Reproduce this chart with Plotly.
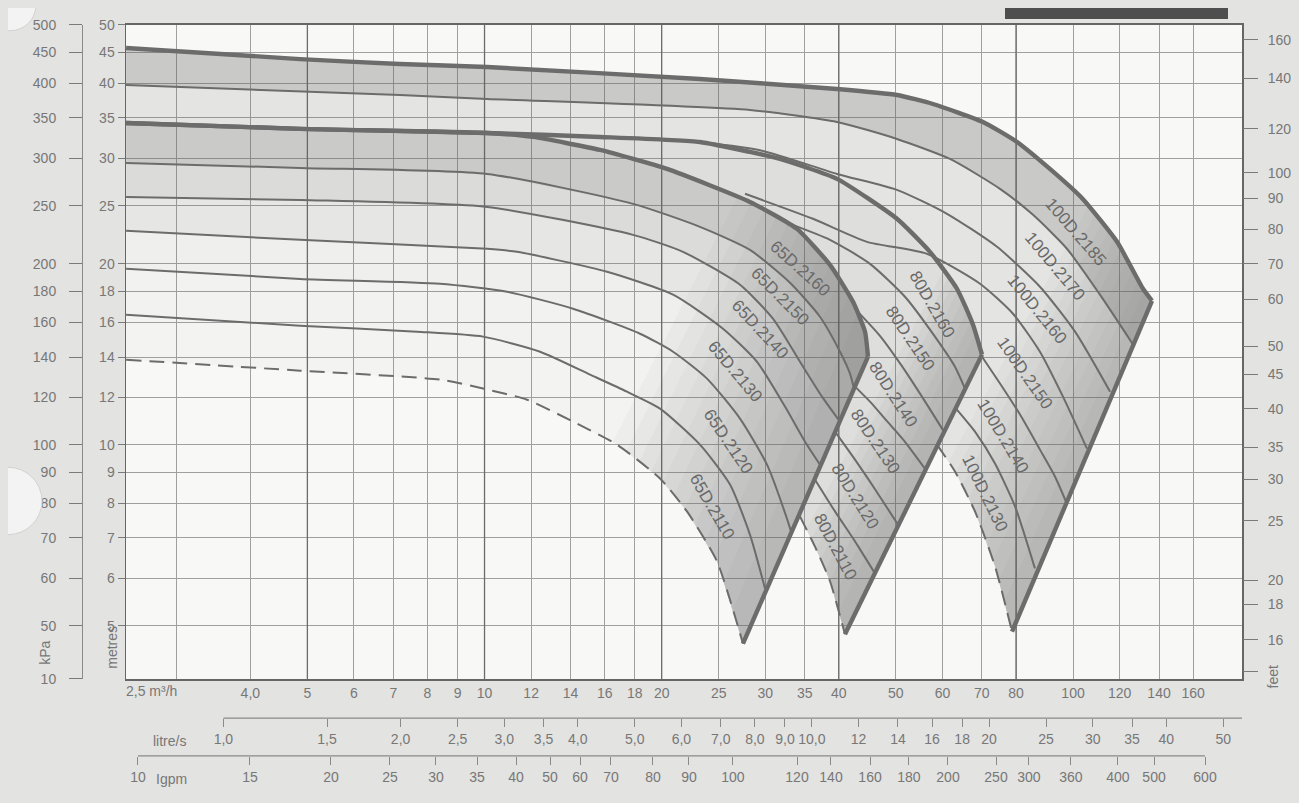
import numpy as np
import plotly.graph_objects as go

# ---------------- curve data (flow m3/h, head m) ----------------
Q_100D_2185 = [2.46, 4.86, 7.18, 10.10, 23.23, 39.71, 50.21, 57.81, 70.31, 80.32, 91.36, 103.9, 118.8, 131.5, 136.2]
H_100D_2185 = [45.75, 43.85, 43.02, 42.53, 40.62, 39.10, 38.21, 36.92, 34.46, 31.92, 28.79, 25.66, 21.77, 18.19, 17.37]
Q_100D_2170 = [2.46, 7.18, 10.10, 28.25, 39.71, 50.21, 61.79, 75.15, 85.51, 97.65, 111.1, 126.5]
H_100D_2170 = [39.70, 38.21, 37.64, 36.08, 34.46, 32.29, 29.91, 26.67, 24.14, 21.20, 17.78, 14.68]
Q_100D_2160 = [2.46, 4.86, 10.10, 15.71, 23.23, 29.73, 39.71, 50.21, 61.07, 74.27, 87.86, 100.8, 115.6]
H_100D_2160 = [34.33, 33.56, 33.04, 32.54, 31.92, 30.84, 28.24, 26.57, 24.24, 21.36, 18.33, 15.43, 12.26]
Q_100D_2150 = [27.71, 36.15, 44.66, 56.47, 69.49, 79.07, 87.86, 96.14, 105.6]
H_100D_2150 = [26.17, 23.78, 21.77, 20.79, 18.54, 16.53, 14.29, 12.03, 9.86]
Q_100D_2140 = [70.04, 75.15, 81.27, 87.86, 93.17, 97.28]
H_100D_2140 = [14.02, 12.65, 11.23, 9.82, 8.86, 8.05]
Q_100D_2130 = [63.26, 68.14, 73.69, 79.70, 86.15]
H_100D_2130 = [11.49, 10.52, 9.31, 7.90, 6.23]
Q_100D_MIN = [58.72, 63.01, 68.14, 73.69, 78.77]
H_100D_MIN = [10.01, 9.03, 7.75, 6.28, 4.89]

Q_80D_2160 = [2.46, 4.86, 10.10, 15.71, 23.23, 28.25, 31.77, 39.71, 50.21, 57.13, 63.50, 67.61, 70.04]
H_80D_2160 = [34.33, 33.56, 33.04, 32.54, 31.92, 30.72, 29.91, 27.71, 23.78, 20.95, 18.19, 15.85, 14.13]
Q_80D_2150 = [33.04, 38.64, 45.19, 51.81, 58.26, 63.01, 65.52]
H_80D_2150 = [23.32, 21.94, 20.01, 17.64, 15.14, 13.49, 12.41]
Q_80D_2140 = [43.11, 46.98, 51.00, 55.37, 60.35]
H_80D_2140 = [16.65, 15.19, 13.60, 12.03, 10.52]
Q_80D_2130 = [42.61, 45.19, 47.72, 51.81, 56.03]
H_80D_2130 = [12.50, 11.80, 11.10, 10.12, 9.13]
Q_80D_2120 = [39.40, 42.61, 46.26, 50.41]
H_80D_2120 = [10.52, 9.45, 8.39, 7.37]
Q_80D_2110 = [36.44, 39.40, 42.61, 46.08]
H_80D_2110 = [8.75, 7.75, 6.91, 6.11]
Q_80D_MIN = [34.36, 36.44, 38.64, 40.97]
H_80D_MIN = [7.60, 6.77, 5.93, 4.84]

Q_65D_2160 = [2.46, 4.86, 10.10, 12.09, 15.71, 20.42, 28.25, 33.96, 38.64, 42.28, 44.31, 44.83]
H_65D_2160 = [34.33, 33.56, 33.04, 32.54, 30.96, 28.79, 25.37, 22.88, 19.93, 17.30, 15.43, 14.02]
Q_65D_2150 = [2.46, 4.86, 10.10, 17.88, 23.23, 28.25, 33.04, 37.15, 40.18, 41.78, 42.44]
H_65D_2150 = [29.46, 28.90, 28.24, 25.18, 23.06, 21.11, 18.61, 16.34, 14.29, 13.14, 12.41]
Q_65D_2140 = [2.46, 4.86, 10.10, 17.88, 21.74, 27.17, 30.91, 34.36, 37.45, 40.18]
H_65D_2140 = [25.86, 25.56, 24.89, 22.36, 20.95, 18.47, 16.22, 13.75, 12.03, 10.93]
Q_65D_2130 = [2.46, 4.86, 10.10, 11.36, 16.15, 20.91, 25.42, 29.04, 32.40, 35.04, 37.15]
H_65D_2130 = [22.71, 21.94, 21.20, 20.95, 19.41, 17.78, 15.61, 13.75, 11.58, 10.12, 9.27]
Q_65D_2120 = [2.46, 4.86, 8.40, 10.92, 14.14, 18.37, 20.91, 23.88, 27.17, 30.20, 32.65, 33.30]
H_65D_2120 = [19.63, 18.89, 18.54, 17.98, 16.85, 15.31, 14.29, 12.89, 11.06, 9.27, 7.54, 7.09]
Q_65D_2110 = [2.46, 4.86, 7.68, 9.94, 12.43, 15.11, 17.46, 19.87, 23.23, 26.13, 28.25, 29.96]
H_65D_2110 = [16.46, 15.79, 15.43, 15.14, 14.29, 13.09, 12.26, 11.49, 10.01, 8.59, 7.09, 5.77]
Q_65D_MIN = [2.46, 4.86, 8.40, 9.94, 11.81, 14.14, 16.79, 19.87, 22.08, 24.83, 27.49]
H_65D_MIN = [13.86, 13.29, 12.84, 12.41, 11.89, 10.93, 10.01, 8.79, 7.75, 6.40, 4.67]

# curve labels
LABEL_TEXT = ["65D.2160", "65D.2150", "65D.2140", "65D.2130", "65D.2120", "65D.2110",
              "80D.2160", "80D.2150", "80D.2140", "80D.2130", "80D.2120", "80D.2110",
              "100D.2185", "100D.2170", "100D.2160", "100D.2150", "100D.2140", "100D.2130"]
LABEL_Q = [34.36, 31.77, 29.38, 26.65, 25.93, 24.35,
           57.58, 52.84, 49.43, 46.08, 42.61, 39.40,
           100.8, 93.17, 86.83, 82.85, 76.03, 70.86]
LABEL_H = [19.63, 17.64, 15.55, 13.24, 10.12, 7.90,
           17.11, 15.02, 12.12, 10.12, 8.20, 6.77,
           22.62, 19.79, 16.78, 13.14, 10.32, 8.30]
LABEL_ANGLE = [42, 45, 47, 50, 56, 60,
               60, 56, 57, 56, 58, 62,
               49, 50, 51, 55, 59, 64]

# axis scales
M3H_TICKS = [3, 4, 5, 6, 7, 8, 9, 10, 12, 14, 16, 18, 20, 25, 30, 35, 40, 50, 60, 70, 80, 100, 120, 140, 160]
M3H_TEXT = ["", "4,0", "5", "6", "7", "8", "9", "10", "12", "14", "16", "18", "20", "25", "30", "35",
            "40", "50", "60", "70", "80", "100", "120", "140", "160"]
MAJOR_GRID_Q = [5, 10, 20, 40, 80]
M_TICKS = [50, 45, 40, 35, 30, 25, 20, 18, 16, 14, 12, 10, 9, 8, 7, 6, 5]
KPA_TICKS = [500, 450, 400, 350, 300, 250, 200, 180, 160, 140, 120, 100, 90, 80, 70, 60, 50]
FT_TEXT = ["160", "140", "120", "100", "90", "80", "70", "60", "50", "45", "40", "35", "30", "25",
           "20", "18", "16", ""]
# where each printed feet tick sits on the metre scale
FT_AT_M = [47.23, 40.72, 33.55, 28.38, 25.71, 22.86, 20.01, 17.45, 14.60, 13.12, 11.49, 9.904,
           8.770, 7.476, 5.953, 5.433, 4.739, 4.196]
LS_TICKS = [1.0, 1.5, 2.0, 2.5, 3.0, 3.5, 4.0, 5.0, 6.0, 7.0, 8.0, 9.0, 10.0, 12, 14, 16, 18, 20, 25, 30, 35, 40, 50]
LS_TEXT = ["1,0", "1,5", "2,0", "2,5", "3,0", "3,5", "4,0", "5,0", "6,0", "7,0", "8,0", "9,0", "10,0",
           "12", "14", "16", "18", "20", "25", "30", "35", "40", "50"]
IGPM_TEXT = ["10", "15", "20", "25", "30", "35", "40", "50", "60", "70", "80", "90", "100", "120", "140",
             "160", "180", "200", "250", "300", "360", "400", "500", "600"]
IGPM_AT_M3H = [2.577, 3.994, 5.484, 6.907, 8.270, 9.710, 11.31, 12.92, 14.53, 16.40, 19.33, 22.25, 26.43,
               33.96, 38.79, 45.19, 52.62, 61.31, 73.98, 84.16, 99.20, 119.2, 137.3, 167.6]

X_LO, X_HI = 2.459, 193.7
Y_LO, Y_HI = 4.07, 50.0
LS_PER_M3H = 3.6

# ---------------- page geometry ----------------
OFF_X = 8
W, H = 1299 - 2 * OFF_X, 803
PX_L, PX_R, PX_T, PX_B = 126, 1242, 18, 678
TOP_Y, Y_STRETCH = 9.0, 1.0108   # keeps the top tick labels inside the figure


def px(x):
    return (x - OFF_X) / W


def py(y):
    return 1 - (TOP_Y + (y - PX_T) * Y_STRETCH) / H


def q_to_paper(q):
    f = (np.log10(q) - np.log10(X_LO)) / (np.log10(X_HI) - np.log10(X_LO))
    return px(PX_L) + f * (px(PX_R) - px(PX_L))


GREY_LINE = "#6c6c6c"
TXT = "#777777"
FONT = "Liberation Sans, Arial, sans-serif"

fam65 = [(Q_65D_2160, H_65D_2160), (Q_65D_2150, H_65D_2150), (Q_65D_2140, H_65D_2140),
         (Q_65D_2130, H_65D_2130), (Q_65D_2120, H_65D_2120), (Q_65D_2110, H_65D_2110),
         (Q_65D_MIN, H_65D_MIN)]
fam80 = [(Q_80D_2160, H_80D_2160), (Q_80D_2150, H_80D_2150), (Q_80D_2140, H_80D_2140),
         (Q_80D_2130, H_80D_2130), (Q_80D_2120, H_80D_2120), (Q_80D_2110, H_80D_2110),
         (Q_80D_MIN, H_80D_MIN)]
fam100 = [(Q_100D_2185, H_100D_2185), (Q_100D_2170, H_100D_2170), (Q_100D_2160, H_100D_2160),
          (Q_100D_2150, H_100D_2150), (Q_100D_2140, H_100D_2140), (Q_100D_2130, H_100D_2130),
          (Q_100D_MIN, H_100D_MIN)]

fig = go.Figure()


def add_fill(xs, ys, alpha):
    fig.add_trace(go.Scatter(x=list(xs), y=list(ys), mode="lines", fill="toself",
                             line=dict(width=0, color="rgba(0,0,0,0)"),
                             fillcolor=f"rgba(95,95,95,{alpha})",
                             hoverinfo="skip", showlegend=False))


def clip_from(q, h, qmin):
    q = np.asarray(q, float)
    h = np.asarray(h, float)
    lq, lh = np.log10(q), np.log10(h)
    lqm = np.log10(qmin)
    if lqm <= lq[0]:
        return list(q), list(h)
    keep = lq > lqm
    lh0 = np.interp(lqm, lq, lh)
    return [qmin] + list(q[keep]), [10 ** lh0] + list(h[keep])


def glow(top, bot, r, alpha):
    qt, ht = clip_from(top[0], top[1], r * top[0][-1])
    qb, hb = clip_from(bot[0], bot[1], r * bot[0][-1])
    add_fill(qt + qb[::-1], ht + hb[::-1], alpha)


# darker major grid lines
for q in MAJOR_GRID_Q:
    fig.add_trace(go.Scatter(x=[q, q], y=[Y_LO, Y_HI], mode="lines",
                             line=dict(color="#6c6c6c", width=1.3),
                             hoverinfo="skip", showlegend=False))

# ---------------- shaded bands (layered to imitate the printed gradient) ----------------
alphas65 = [0.30, 0.19, 0.11, 0.06, 0.04, 0.03]
for k in range(6):
    qa, ha = fam65[k]
    qb, hb = fam65[k + 1]
    add_fill(list(qa) + list(qb)[::-1], list(ha) + list(hb)[::-1], alphas65[k])
for r in np.linspace(0.6, 0.96, 12):
    glow(fam65[0], fam65[6], r, 0.038)

add_fill(Q_80D_2160 + Q_80D_MIN[::-1] + Q_65D_2160[::-1],
         H_80D_2160 + H_80D_MIN[::-1] + H_65D_2160[::-1], 0.17)
for r in np.linspace(0.86, 0.975, 8):
    glow(fam80[0], fam80[6], r, 0.045)

add_fill(Q_100D_2185 + Q_100D_MIN[::-1] + Q_80D_2160[::-1],
         H_100D_2185 + H_100D_MIN[::-1] + H_80D_2160[::-1], 0.13)
add_fill(Q_100D_2185 + Q_100D_2170[::-1], H_100D_2185 + H_100D_2170[::-1], 0.2)
for r in np.linspace(0.78, 0.97, 10):
    glow(fam100[0], fam100[6], r, 0.04)

# ---------------- curves ----------------
thin = dict(color=GREY_LINE, width=2.0, shape="spline", smoothing=0.6)
dashed = dict(color=GREY_LINE, width=2.0, dash="15px,8px", shape="spline", smoothing=0.6)
thick = dict(color=GREY_LINE, width=4.4, shape="spline", smoothing=0.5)

for fam in (fam65, fam80, fam100):
    for k in range(1, 6):
        fig.add_trace(go.Scatter(x=fam[k][0], y=fam[k][1], mode="lines", line=thin,
                                 hoverinfo="skip", showlegend=False))
    fig.add_trace(go.Scatter(x=fam[6][0], y=fam[6][1], mode="lines", line=dashed,
                             hoverinfo="skip", showlegend=False))

for fam in (fam100, fam80, fam65):
    fig.add_trace(go.Scatter(x=fam[0][0], y=fam[0][1], mode="lines", line=thick,
                             hoverinfo="skip", showlegend=False))
    fig.add_trace(go.Scatter(x=[fam[0][0][-1], fam[6][0][-1]], y=[fam[0][1][-1], fam[6][1][-1]],
                             mode="lines", line=dict(color=GREY_LINE, width=4.4),
                             hoverinfo="skip", showlegend=False))

# invisible traces so the overlaid secondary axes are drawn
for xa, ya, yv in (("x2", "y", 10), ("x3", "y", 10), ("x", "y2", 10), ("x", "y3", 100)):
    fig.add_trace(go.Scatter(x=[10], y=[yv], xaxis=xa, yaxis=ya, mode="markers",
                             marker=dict(opacity=0), hoverinfo="skip", showlegend=False))

# ---------------- annotations ----------------
ann = []
for t, q, h, a in zip(LABEL_TEXT, LABEL_Q, LABEL_H, LABEL_ANGLE):
    ann.append(dict(x=np.log10(q), y=np.log10(h), xref="x", yref="y", text=t, showarrow=False,
                    textangle=a, font=dict(size=17, color="#696969", family=FONT)))


def pann(text, x, y, angle=0, xanchor="center", size=14):
    ann.append(dict(x=px(x), y=py(y), xref="paper", yref="paper", text=text, showarrow=False,
                    textangle=angle, xanchor=xanchor, yanchor="middle",
                    font=dict(size=size, color=TXT, family=FONT)))


pann("2,5 m³/h", 124, 690, xanchor="left")
pann("litre/s", 169, 740)
pann("Igpm", 171, 778)
pann("kPa", 45, 651, angle=-90)
pann("metres", 112, 646, angle=-90)
pann("feet", 1273, 676, angle=-90)

tick_font = dict(size=14, color=TXT, family=FONT)
x_range = [np.log10(X_LO), np.log10(X_HI)]
y_range = [np.log10(Y_LO), np.log10(Y_HI)]

ls_start = q_to_paper(LS_PER_M3H * LS_TICKS[0])
ig_start, ig_end = q_to_paper(IGPM_AT_M3H[0]), q_to_paper(IGPM_AT_M3H[-1])
shapes = [
    dict(type="line", xref="paper", yref="paper", x0=ls_start, x1=px(PX_R), y0=py(717), y1=py(717),
         line=dict(color="#8a8a8a", width=1.2)),
    dict(type="line", xref="paper", yref="paper", x0=ig_start, x1=ig_end, y0=py(755), y1=py(755),
         line=dict(color="#8a8a8a", width=1.2)),
    dict(type="rect", xref="paper", yref="paper", x0=px(1005), x1=px(1228), y0=py(12), y1=py(-6),
         fillcolor="#4e4e4e", line=dict(width=0), layer="above"),
    dict(type="circle", xref="paper", yref="paper", x0=px(-16), x1=px(36), y0=py(24), y1=py(-28),
         fillcolor="#f3f3f3", line=dict(color="#d2d2d2", width=1), layer="above"),
    dict(type="circle", xref="paper", yref="paper", x0=px(-26), x1=px(42), y0=py(532), y1=py(464),
         fillcolor="#f3f3f3", line=dict(color="#d2d2d2", width=1), layer="above"),
]

fig.update_layout(
    width=W, height=H, autosize=False,
    margin=dict(l=0, r=0, t=0, b=0),
    paper_bgcolor="#e3e3e1", plot_bgcolor="#f8f8f6",
    showlegend=False, hovermode=False,
    font=dict(family=FONT, size=14, color=TXT),
    xaxis=dict(type="log", domain=[px(PX_L), px(PX_R)], range=x_range,
               tickmode="array", tickvals=M3H_TICKS, ticktext=M3H_TEXT, ticks="",
               tickfont=tick_font, showgrid=True, gridcolor="#a0a0a0", gridwidth=1,
               showline=True, linecolor="#666666", linewidth=1.5, mirror=True,
               zeroline=False, anchor="y"),
    yaxis=dict(type="log", domain=[py(PX_B), py(PX_T)], range=y_range,
               tickmode="array", tickvals=M_TICKS, ticktext=[str(v) for v in M_TICKS],
               ticks="outside", ticklen=7, tickcolor="#7a7a7a", tickfont=tick_font,
               showgrid=True, gridcolor="#a0a0a0", gridwidth=1,
               showline=True, linecolor="#666666", linewidth=1.5, mirror=True,
               zeroline=False, anchor="x"),
    yaxis2=dict(type="log", overlaying="y", side="right", anchor="x", range=y_range,
                tickmode="array", tickvals=FT_AT_M, ticktext=FT_TEXT,
                ticks="outside", ticklen=15, tickcolor="#7a7a7a", tickfont=tick_font,
                ticklabelstandoff=7,
                showgrid=False, showline=False, zeroline=False),
    yaxis3=dict(type="log", overlaying="y", side="left", anchor="free", position=px(82),
                range=[np.log10(Y_LO * 10), np.log10(Y_HI * 10)],
                tickmode="array", tickvals=KPA_TICKS + [Y_LO * 10 * 1.003],
                ticktext=[str(v) for v in KPA_TICKS] + ["10"],
                ticks="outside", ticklen=13, tickcolor="#7a7a7a", tickfont=tick_font,
                ticklabelstandoff=10,
                showgrid=False, showline=True, linecolor="#8a8a8a", linewidth=1.2,
                zeroline=False),
    xaxis2=dict(type="log", overlaying="x", anchor="free", position=py(717), side="bottom",
                range=x_range,
                tickmode="array", tickvals=[LS_PER_M3H * v for v in LS_TICKS], ticktext=LS_TEXT,
                ticks="outside", ticklen=8, tickcolor="#8a8a8a", tickfont=tick_font,
                showgrid=False, showline=False, zeroline=False),
    xaxis3=dict(type="log", overlaying="x", anchor="free", position=py(755), side="bottom",
                range=x_range,
                tickmode="array", tickvals=IGPM_AT_M3H, ticktext=IGPM_TEXT,
                ticks="outside", ticklen=8, tickcolor="#8a8a8a", tickfont=tick_font,
                showgrid=False, showline=False, zeroline=False),
    annotations=ann,
    shapes=shapes,
)

fig.write_html("out.html", include_plotlyjs=True, full_html=True,
               config={"displayModeBar": False, "staticPlot": True},
               post_script="document.body.style.background='#e3e3e1';")
